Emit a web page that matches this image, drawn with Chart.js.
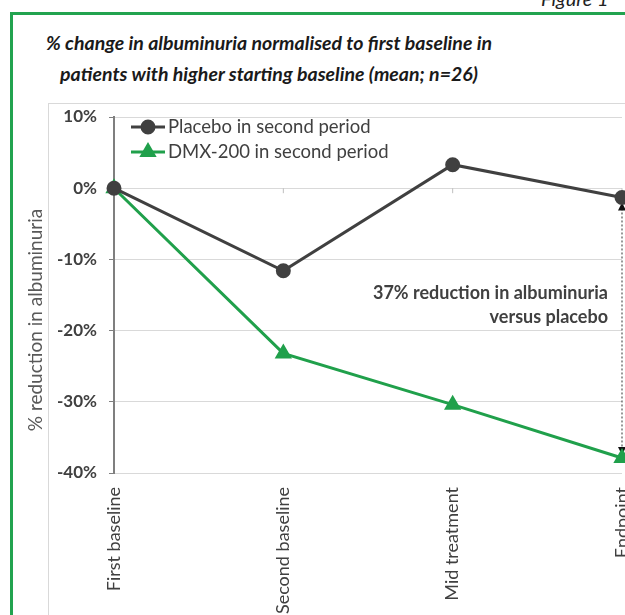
<!DOCTYPE html>
<html>
<head>
<meta charset="utf-8">
<script src="https://cdn.jsdelivr.net/npm/chart.js@4"></script>
<style>
  html, body { margin: 0; padding: 0; background: #fff; }
  body { width: 625px; height: 615px; overflow: hidden; position: relative; font-family: Lato, sans-serif; }
  #frame { position: absolute; left: 10px; top: 12px; width: 760px; height: 700px; border-left: 3px solid #22a34f; border-top: 3px solid #22a34f; }
  #fig { position: absolute; left: 541px; top: -14px; font: italic 20px Lato, sans-serif; color: #222; }
  #box { position: absolute; left: 48px; top: 103px; width: 700px; height: 600px; border: 1px solid #d9d9d9; }
  .title { position: absolute; left: 0; width: 538px; text-align: center; font: italic bold 19.5px Lato, sans-serif; color: #1a1a1a; }
  canvas { position: absolute; left: 0; top: 0; }
</style>
</head>
<body>
<div id="fig">Figure 1</div>
<div id="frame"></div>
<div id="box"></div>
<div class="title" style="top:31px">% change in albuminuria normalised to first baseline in</div>
<div class="title" style="top:62px">patients with higher starting baseline (mean; n=26)</div>
<canvas id="myChart" width="700" height="615"></canvas>
<script>
const ctx = document.getElementById('myChart')

const timepoints = ['First baseline', 'Second baseline', 'Mid treatment', 'Endpoint']
const placebo = [0, -11.6, 3.3, -1.3]
const dmx200 = [0, -23.2, -30.4, -37.9]
const seriesNames = ['Placebo in second period', 'DMX-200 in second period']
const yTicks = [10, 0, -10, -20, -30, -40]
const noteLines = ['37% reduction in albuminuria', 'versus placebo']

const grey = '#404040'
const green = '#20a04b'

// legend, arrow, axis title and the little category ticks on the 0% line
const extras = {
  id: 'extras',
  beforeDatasetsDraw(chart) {
    const c = chart.ctx
    const x = chart.scales.x
    const y = chart.scales.y
    const last = timepoints.length - 1
    const px = x.getPixelForValue(last)
    const top = y.getPixelForValue(placebo[last]) + 5
    const bottom = y.getPixelForValue(dmx200[last]) - 3
    c.save()
    c.strokeStyle = '#333'
    c.lineWidth = 1
    c.setLineDash([2, 2])
    c.beginPath()
    c.moveTo(px, top + 6)
    c.lineTo(px, bottom - 6)
    c.stroke()
    c.setLineDash([])
    c.fillStyle = '#111'
    c.beginPath()
    c.moveTo(px, top); c.lineTo(px - 4, top + 8); c.lineTo(px + 4, top + 8)
    c.fill()
    c.beginPath()
    c.moveTo(px, bottom); c.lineTo(px - 4, bottom - 8); c.lineTo(px + 4, bottom - 8)
    c.fill()

    c.strokeStyle = '#bfbfbf'
    const zero = y.getPixelForValue(0)
    for (let i = 1; i < timepoints.length; i++) {
      const tx = x.getPixelForValue(i)
      c.beginPath()
      c.moveTo(tx, zero)
      c.lineTo(tx, zero + 5)
      c.stroke()
    }
    c.restore()
  },
  afterDraw(chart) {
    const c = chart.ctx
    c.save()
    // legend
    const items = [
      { name: seriesNames[0], color: grey, style: 'circle', y: 127 },
      { name: seriesNames[1], color: green, style: 'triangle', y: 152 }
    ]
    items.forEach(it => {
      c.strokeStyle = it.color
      c.lineWidth = 3
      c.beginPath()
      c.moveTo(131, it.y)
      c.lineTo(165, it.y)
      c.stroke()
      c.fillStyle = it.color
      Chart.helpers.drawPoint(c, { pointStyle: it.style, radius: it.style === 'circle' ? 6 : 7, rotation: 0, borderWidth: 1 }, 148, it.y)
      c.fillStyle = grey
      c.font = '18.5px Lato'
      c.textBaseline = 'middle'
      c.textAlign = 'left'
      c.fillText(it.name, 168, it.y)
    })

    // note
    c.font = 'bold 18px Lato'
    c.fillStyle = '#404040'
    c.textAlign = 'right'
    c.fillText(noteLines[0], 608, 293)
    c.fillText(noteLines[1], 608, 317)

    // y axis title
    c.translate(36, 320)
    c.rotate(-Math.PI / 2)
    c.textAlign = 'center'
    c.font = '19px Lato'
    c.fillStyle = '#595959'
    c.fillText('% reduction in albuminuria', 0, 0)
    c.restore()
  }
}

new Chart(ctx, {
  type: 'line',
  data: {
    labels: timepoints,
    datasets: [
      {
        label: seriesNames[0],
        data: placebo,
        borderColor: grey,
        backgroundColor: grey,
        borderWidth: 3,
        pointStyle: 'circle',
        pointRadius: 6,
        tension: 0
      },
      {
        label: seriesNames[1],
        data: dmx200,
        borderColor: green,
        backgroundColor: green,
        borderWidth: 3,
        pointStyle: 'triangle',
        pointRadius: 7,
        tension: 0
      }
    ]
  },
  options: {
    responsive: false,
    animation: false,
    layout: { padding: { left: 0, right: 78, top: 117, bottom: 0 } },
    plugins: {
      legend: { display: false },
      tooltip: { enabled: false }
    },
    scales: {
      x: {
        offset: false,
        grid: { display: false, drawTicks: false },
        border: { display: false },
        ticks: {
          autoSkip: false,
          minRotation: 90,
          maxRotation: 90,
          padding: 14,
          color: grey,
          font: { family: 'Lato', size: 18 }
        },
        afterFit(scale) { scale.height = 615 - 473 }
      },
      y: {
        min: -40,
        max: 10,
        afterBuildTicks(scale) { scale.ticks = yTicks.map(v => ({ value: v })) },
        grid: { color: '#d9d9d9', tickColor: '#7f7f7f', tickLength: 5, lineWidth: 1 },
        border: { color: '#7f7f7f', width: 2 },
        ticks: {
          padding: 12,
          color: grey,
          font: { family: 'Lato', size: 17, weight: 'bold' },
          callback: v => v + '%'
        },
        afterFit(scale) { scale.width = 114 }
      }
    }
  },
  plugins: [extras]
})
</script>
</body>
</html>
